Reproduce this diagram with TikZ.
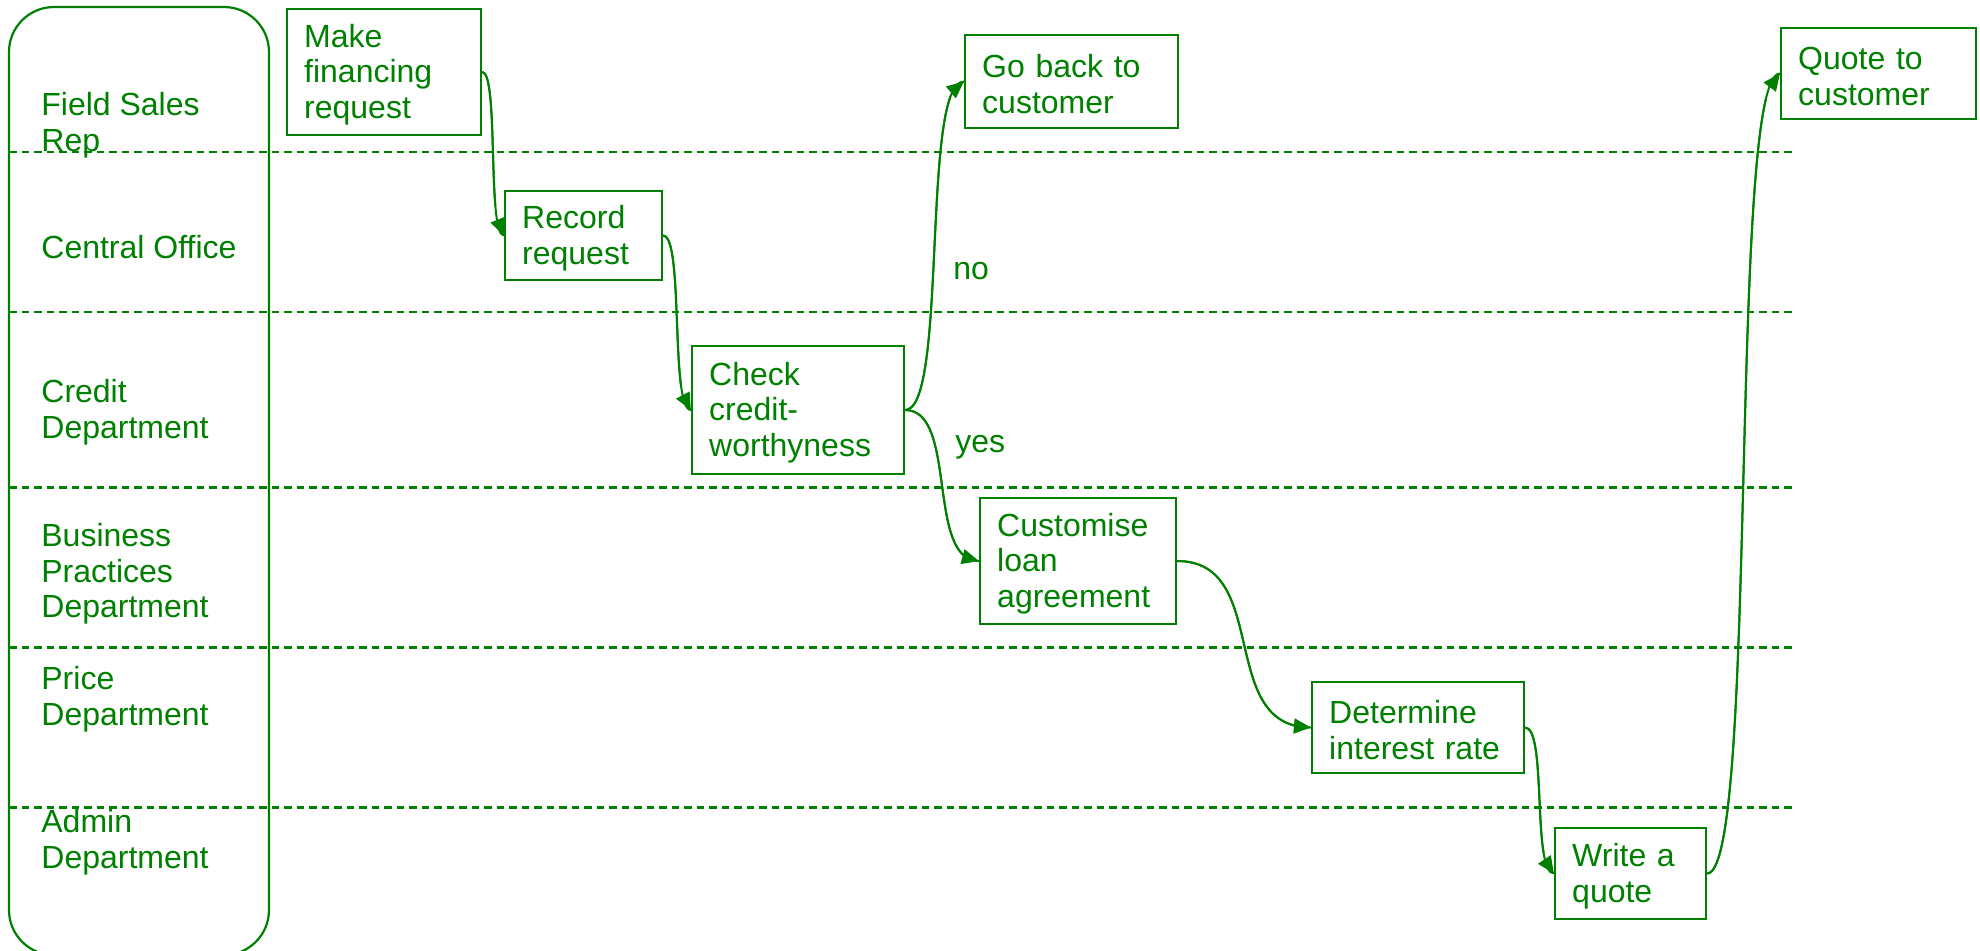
\documentclass[tikz,border=0pt]{standalone}
\usepackage{fontspec}
\setmainfont{Liberation Sans}
\usetikzlibrary{arrows.meta,bending}
\definecolor{dgreen}{RGB}{0,128,0}
\begin{document}
\begin{tikzpicture}[x=0.5pt,y=-0.5pt,
  every node/.style={text=dgreen, font=\fontsize{16}{17.75}\selectfont},
  stepbox/.style={draw=dgreen, line width=1.1pt, align=left, inner xsep=8.6pt, inner ysep=0pt,
    execute at begin node={\rule{0pt}{14.1pt}}},
  lane/.style={anchor=west, inner sep=0pt, align=left},
  sep/.style={draw=dgreen, line width=1.2pt, dash pattern=on 3.75pt off 2.5pt},
  conn/.style={draw=dgreen, line width=1pt,
    postaction={draw=dgreen, line width=1pt, -{Triangle[length=8.5pt,width=7.5pt,flex=0.75]}}},
  lanebox/.style={draw=dgreen, line width=1.1pt, rounded corners=22.5pt}
]
\useasboundingbox (0,0) rectangle (1980,950);
\clip (0,0) rectangle (1980,950);

% swimlane frame and separators
\draw[lanebox] (9,7) rectangle (269,955);
\foreach \yy in {151.7,311.7,487.3,647.5,807.6}
  \draw[sep] (9,\yy) -- (1795,\yy);

% lane labels
\node[lane] (l1) at (41,125) {Field Sales\\Rep};
\node[lane] (l2) at (41,247) {Central Office};
\node[lane] (l3) at (41,412) {Credit\\Department};
\node[lane] (l4) at (41,574) {Business\\Practices\\Department};
\node[lane] (l5) at (41,699) {Price\\Department};
\node[lane] (l6) at (41,842) {Admin\\Department};

% process boxes
\node[stepbox, minimum width=97pt, minimum height=63pt, text width=79.8pt] (make) at (384,72) {Make\\financing\\request};
\node[stepbox, minimum width=78.5pt, minimum height=44.5pt, text width=61.3pt] (record) at (583.5,235.5) {Record\\request};
\node[stepbox, minimum width=106pt, minimum height=64pt, text width=88.8pt] (check) at (798,410) {Check\\credit-\\worthyness};
\node[stepbox, minimum width=106.5pt, minimum height=46.5pt, text width=89.3pt] (goback) at (1071.5,81.5) {Go back to\\customer};
\node[stepbox, minimum width=98pt, minimum height=63pt, text width=80.8pt] (custom) at (1078,561) {Customise\\loan\\agreement};
\node[stepbox, minimum width=106pt, minimum height=45.5pt, text width=88.8pt] (determine) at (1418,727.5) {Determine\\interest rate};
\node[stepbox, minimum width=75.5pt, minimum height=45.5pt, text width=58.3pt] (write) at (1630.5,873.5) {Write a\\quote};
\node[stepbox, minimum width=97.5pt, minimum height=45.5pt, text width=80.3pt] (quote) at (1878.5,73.5) {Quote to\\customer};

% decision labels
\node[anchor=west, inner sep=0pt] (no) at (953,271) {no};
\node[anchor=west, inner sep=0pt] (yes) at (955,447) {yes};

% connectors
\draw[conn] (make.east) .. controls ([xshift=8.5pt]make.east) and ([xshift=-8.5pt]record.west) .. (record.west);
\draw[conn] (record.east) .. controls ([xshift=10.5pt]record.east) and ([xshift=-10.5pt]check.west) .. (check.west);
\draw[conn] (check.east) .. controls ([xshift=21.5pt]check.east) and ([xshift=-21.5pt]goback.west) .. (goback.west);
\draw[conn] (check.east) .. controls ([xshift=26.5pt]check.east) and ([xshift=-26.5pt]custom.west) .. (custom.west);
\draw[conn] (custom.east) .. controls ([xshift=47.5pt]custom.east) and ([xshift=-47.5pt]determine.west) .. (determine.west);
\draw[conn] (determine.east) .. controls ([xshift=11pt]determine.east) and ([xshift=-11pt]write.west) .. (write.west);
\draw[conn] (write.east) .. controls ([xshift=26pt]write.east) and ([xshift=-26pt]quote.west) .. (quote.west);
\end{tikzpicture}
\end{document}
